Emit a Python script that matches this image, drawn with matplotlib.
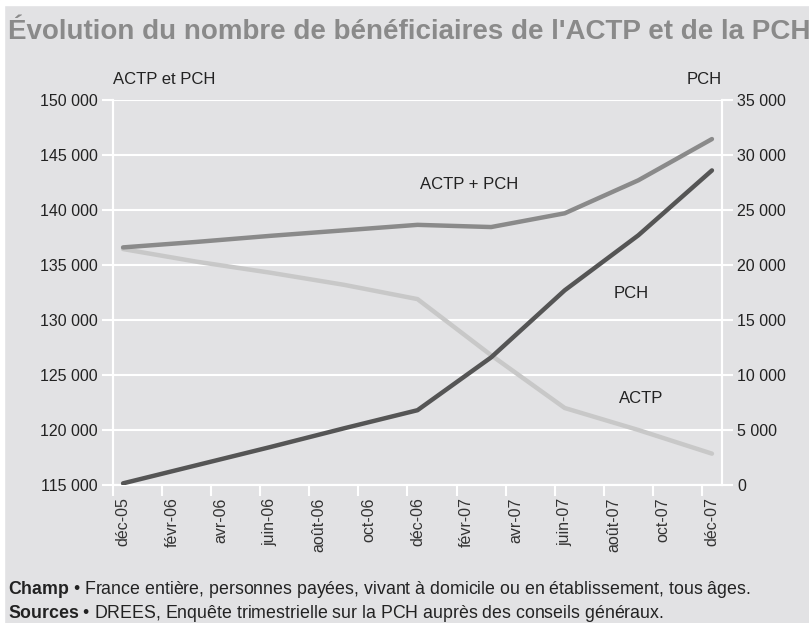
import numpy as np
import matplotlib.pyplot as plt
from matplotlib import font_manager

names = set(f.name for f in font_manager.fontManager.ttflist)
narrow = 'Liberation Sans Narrow' if 'Liberation Sans Narrow' in names else 'Liberation Sans'
plt.rcParams['font.family'] = [narrow, 'DejaVu Sans']
plt.rcParams['mathtext.fontset'] = 'custom'
plt.rcParams['mathtext.bf'] = narrow + ':bold'
plt.rcParams['mathtext.rm'] = narrow

# quarterly data, months since dec 2005
months = [0, 3, 6, 9, 12, 15, 18, 21, 24]
actp = [136450, 135300, 134300, 133200, 131900, 126800, 122000, 120000, 117850]
pch = [150, 1800, 3450, 5150, 6800, 11600, 17700, 22700, 28600]
total = [136600, 137100, 137650, 138150, 138650, 138450, 139700, 142700, 146450]

tick_months = list(range(0, 25, 2))
tick_labels = ['déc-05', 'févr-06', 'avr-06', 'juin-06', 'août-06', 'oct-06', 'déc-06',
               'févr-07', 'avr-07', 'juin-07', 'août-07', 'oct-07', 'déc-07']

bg = '#e2e2e4'
txt = '#222222'
fig = plt.figure(figsize=(8.09, 6.23), dpi=100, facecolor=bg)
ax = fig.add_axes([113/809, 1-485/623, 609/809, 385/623])
ax.set_facecolor(bg)
ax2 = ax.twinx()

ax.plot(months, actp, color='#c8c8c8', lw=3.2, solid_capstyle='round', zorder=3)
ax.plot(months, total, color='#8a8a8a', lw=3.2, solid_capstyle='round', zorder=4)
ax2.plot(months, pch, color='#555555', lw=3.2, solid_capstyle='round', zorder=5)

ax.set_xlim(-0.41, 24.41)
ax.set_ylim(115000, 150000)
ax2.set_ylim(0, 35000)
ax.set_yticks(np.arange(115000, 150001, 5000))
ax2.set_yticks(np.arange(0, 35001, 5000))
fmt = lambda v: f'{int(v):,}'.replace(',', ' ')
ax.set_yticklabels([fmt(v) for v in ax.get_yticks()])
ax2.set_yticklabels([fmt(v) for v in ax2.get_yticks()])
ax.grid(axis='y', color='white', lw=1.5, zorder=0)
ax.set_axisbelow(True)

ax.set_xticks(tick_months)
ax.set_xticklabels(tick_labels, rotation=90, fontsize=11.5, color='#333333')
ax.tick_params(axis='x', length=0, pad=9)
ax.set_xticks(np.arange(-0.41, 24, 2), minor=True)
ax.tick_params(axis='x', which='minor', length=8, color='white', width=1.5)
ax.tick_params(axis='y', length=8, color='white', width=1.5, labelsize=11.5, labelcolor=txt, pad=3)
ax2.tick_params(axis='y', length=8, color='white', width=1.5, labelsize=11.5, labelcolor=txt, pad=3)

for a in (ax, ax2):
    for s in a.spines.values():
        s.set_color('white')
        s.set_linewidth(1.5)
    a.spines['top'].set_visible(False)

ax.text(14.1, 142300, 'ACTP + PCH', fontsize=12, color=txt, ha='center', va='center', zorder=6)
ax.text(20.7, 132450, 'PCH', fontsize=12, color=txt, ha='center', va='center', zorder=6)
ax.text(21.1, 122900, 'ACTP', fontsize=12, color=txt, ha='center', va='center', zorder=6)

fig.text(113/809, 1-79/623, 'ACTP et PCH', fontsize=12, color=txt, va='center')
fig.text(722/809, 1-79/623, 'PCH', fontsize=12, color=txt, va='center', ha='right')

fig.text(8/809, 1-32/623, "Évolution du nombre de bénéficiaires de l'ACTP et de la PCH",
         fontsize=20, fontweight='bold', color='#8a8a8a', va='center')

fig.text(8/809, 1-590/623, r'$\mathbf{Champ}$' + ' • France entière, personnes payées, vivant à domicile ou en établissement, tous âges.',
         fontsize=12.8, color=txt, va='center')
fig.text(8/809, 1-613/623, r'$\mathbf{Sources}$' + ' • DREES, Enquête trimestrielle sur la PCH auprès des conseils généraux.',
         fontsize=12.8, color=txt, va='center')

# thin white border at top and left like the scan
fig.patches.append(plt.Rectangle((0, 1-5/623), 1, 5/623, transform=fig.transFigure, color='white'))
fig.patches.append(plt.Rectangle((0, 0), 4/809, 1, transform=fig.transFigure, color='white'))

fig.savefig('out.png', dpi=100, facecolor=bg)
